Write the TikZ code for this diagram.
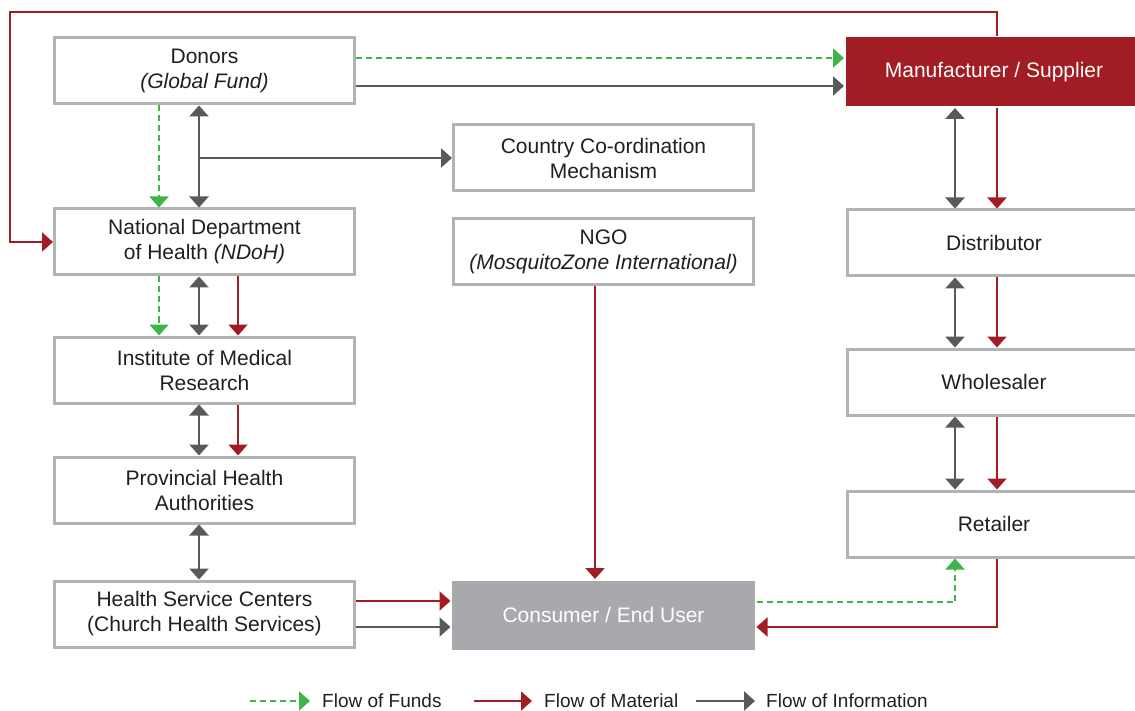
\documentclass[tikz,border=0pt]{standalone}
\usepackage{fontspec}
\setmainfont{Liberation Sans}
\usetikzlibrary{arrows.meta}
\definecolor{cred}{HTML}{A21D23}
\definecolor{cgreen}{HTML}{3DB54A}
\definecolor{cgray}{HTML}{58595B}
\definecolor{bgray}{HTML}{B2B3B5}
\definecolor{fgray}{HTML}{A8A9AC}
\definecolor{textc}{HTML}{231F20}
\tikzset{
  box/.style={draw=bgray, line width=3pt, fill=white, minimum width=300pt, minimum height=66pt,
    align=center, inner sep=0pt, text=textc, font=\fontsize{21}{25}\selectfont},
  tipa/.tip={Triangle[width=19pt,length=11pt]},
  info/.style={draw=cgray, line width=2.5pt, -tipa},
  infob/.style={draw=cgray, line width=2.5pt, tipa-tipa},
  mat/.style={draw=cred, line width=2pt, -tipa},
  funds/.style={draw=cgreen, line width=2pt, dash pattern=on 6pt off 4pt, -tipa},
  legtext/.style={anchor=west, inner sep=0pt, text=textc, font=\fontsize{19}{23}\selectfont}
}
\begin{document}
\begin{tikzpicture}[x=1pt,y=-1pt]
\useasboundingbox (0,0) rectangle (1135,711);
% nodes
\node[box] (donors) at (204.5,71) {Donors\\\textit{(Global Fund)}};
\node[box] (ndoh) at (204.5,242) {National Department\\of Health \textit{(NDoH)}};
\node[box] (imr) at (204.5,370) {Institute of Medical\\Research};
\node[box] (pha) at (204.5,490) {Provincial Health\\Authorities};
\node[box] (hsc) at (204.5,614) {Health Service Centers\\(Church Health Services)};
\node[box] (ccm) at (603.5,158) {Country Co-ordination\\Mechanism};
\node[box] (ngo) at (603.5,252) {NGO\\\textit{(MosquitoZone International)}};
\node[box, draw=none, fill=fgray, text=white, minimum width=303pt, minimum height=69pt] (cons) at (603.5,615) {Consumer / End User};
\node[box, draw=none, fill=cred, text=white, minimum width=303pt, minimum height=69pt] (manu) at (997,72) {\hspace*{-6pt}Manufacturer / Supplier};
\node[box] (dist) at (997,243) {\hspace*{-6pt}Distributor};
\node[box] (whole) at (997,382) {\hspace*{-6pt}Wholesaler};
\node[box] (ret) at (997,524) {\hspace*{-6pt}Retailer};
% helper coordinates
\coordinate (xa) at (159,0);
\coordinate (xb) at (199,0);
\coordinate (xc) at (238,0);
\coordinate (xd) at (955,0);
\coordinate (xe) at (997,0);
\coordinate (xf) at (595,0);
\coordinate (ya) at (0,58);
\coordinate (yb) at (0,86);
\coordinate (yc) at (0,601);
\coordinate (yd) at (0,627);
\coordinate (yg) at (0,602);
\coordinate (tl) at (10,12);
\coordinate (j1) at (199,158);
% left column
\draw[funds] (donors.south -| xa) -- (ndoh.north -| xa);
\draw[infob] (donors.south -| xb) -- (ndoh.north -| xb);
\draw[info] (j1) -- (ccm.west);
\draw[funds] (donors.east |- ya) -- (manu.west |- ya);
\draw[info] (donors.east |- yb) -- (manu.west |- yb);
\draw[funds] (ndoh.south -| xa) -- (imr.north -| xa);
\draw[infob] (ndoh.south -| xb) -- (imr.north -| xb);
\draw[mat] (ndoh.south -| xc) -- (imr.north -| xc);
\draw[infob] (imr.south -| xb) -- (pha.north -| xb);
\draw[mat] (imr.south -| xc) -- (pha.north -| xc);
\draw[infob] (pha.south -| xb) -- (hsc.north -| xb);
\draw[mat] (hsc.east |- yc) -- (cons.west |- yc);
\draw[info] (hsc.east |- yd) -- (cons.west |- yd);
\draw[mat] (ngo.south -| xf) -- (cons.north -| xf);
% right column
\draw[infob] (manu.south -| xd) -- (dist.north -| xd);
\draw[mat] (manu.south -| xe) -- (dist.north -| xe);
\draw[infob] (dist.south -| xd) -- (whole.north -| xd);
\draw[mat] (dist.south -| xe) -- (whole.north -| xe);
\draw[infob] (whole.south -| xd) -- (ret.north -| xd);
\draw[mat] (whole.south -| xe) -- (ret.north -| xe);
\draw[funds] (cons.east |- yg) -| (ret.south -| xd);
\draw[mat] (ret.south -| xe) |- (cons.east |- yd);
% loop from manufacturer to NDoH
\draw[mat] (manu.north -| xe) |- (tl) |- (ndoh.west);
% legend
\coordinate (l1a) at (250,701); \coordinate (l1b) at (310,701);
\coordinate (l2a) at (474,701); \coordinate (l2b) at (532,701);
\coordinate (l3a) at (696,701); \coordinate (l3b) at (755,701);
\draw[funds] (l1a) -- (l1b);
\draw[mat] (l2a) -- (l2b);
\draw[info] (l3a) -- (l3b);
\node[legtext] (t1) at (322,701) {Flow of Funds};
\node[legtext] (t2) at (544,701) {Flow of Material};
\node[legtext] (t3) at (766,701) {Flow of Information};
\end{tikzpicture}
\end{document}
